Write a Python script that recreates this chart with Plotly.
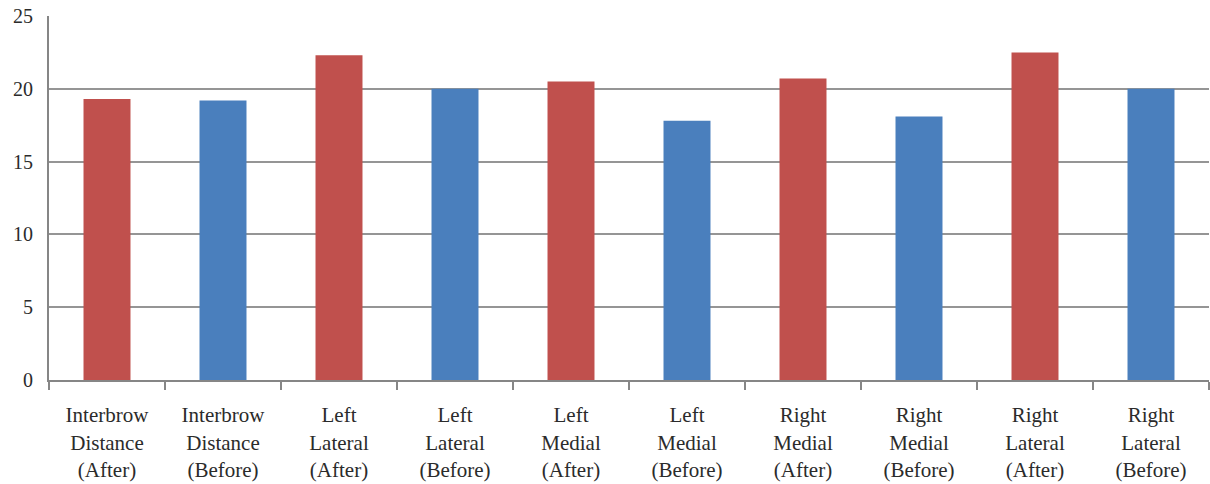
import plotly.graph_objects as go

categories = [
    "Interbrow<br>Distance<br>(After)",
    "Interbrow<br>Distance<br>(Before)",
    "Left<br>Lateral<br>(After)",
    "Left<br>Lateral<br>(Before)",
    "Left<br>Medial<br>(After)",
    "Left<br>Medial<br>(Before)",
    "Right<br>Medial<br>(After)",
    "Right<br>Medial<br>(Before)",
    "Right<br>Lateral<br>(After)",
    "Right<br>Lateral<br>(Before)",
]
values = [19.3, 19.2, 22.3, 20.0, 20.5, 17.8, 20.7, 18.1, 22.5, 20.0]

RED = "#C0504D"
BLUE = "#4A7FBD"
colors = [RED if "(After)" in c else BLUE for c in categories]

fig = go.Figure(
    go.Bar(
        x=categories,
        y=values,
        marker=dict(color=colors, line=dict(width=0)),
        hoverinfo="x+y",
    )
)

fig.update_layout(
    width=1210,
    height=484,
    margin=dict(l=49, r=1, t=16, b=104),
    paper_bgcolor="white",
    plot_bgcolor="white",
    bargap=0.595,
    showlegend=False,
    font=dict(family="Liberation Serif", color="#2b2b2b"),
)

fig.update_xaxes(
    type="category",
    showgrid=False,
    showline=True,
    linecolor="#868686",
    linewidth=2,
    ticks="outside",
    tickson="boundaries",
    ticklen=8,
    tickwidth=2,
    tickcolor="#868686",
    ticklabelstandoff=15,
    tickfont=dict(size=21, family="Liberation Serif", color="#2b2b2b"),
)

fig.update_yaxes(
    range=[0, 25],
    dtick=5,
    showgrid=True,
    gridcolor="#959595",
    gridwidth=2,
    showline=True,
    linecolor="#868686",
    linewidth=2,
    zeroline=False,
    ticks="",
    ticklabelstandoff=10,
    tickfont=dict(size=20, family="Liberation Serif", color="#2b2b2b"),
)

fig.write_html("out.html")
